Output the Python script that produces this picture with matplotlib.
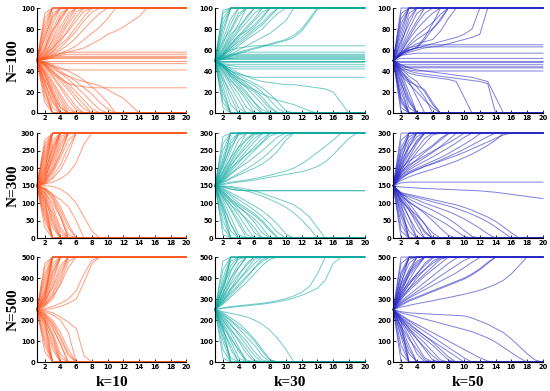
import matplotlib.pyplot as plt

# Each run lists its value at t = 1, 2, 3, ...
# A run that stops early has reached its final state and stays there up to t = 20.

runs_100_10 = [
    [50, 80, 100], [50, 85, 100], [50, 90, 100], [50, 75, 100], [50, 95, 100],
    [50, 70, 95, 100], [50, 65, 90, 100], [50, 72, 92, 100], [50, 60, 85, 100],
    [50, 62, 80, 95, 100], [50, 58, 75, 92, 100], [50, 60, 78, 90, 100], [50, 55, 70, 88, 100],
    [50, 57, 68, 82, 95, 100], [50, 55, 65, 78, 92, 100], [50, 54, 62, 75, 88, 100],
    [50, 53, 60, 72, 85, 96, 100], [50, 52, 58, 68, 80, 92, 100],
    [50, 55, 62, 70, 78, 88, 97, 100], [50, 53, 58, 65, 72, 82, 92, 100],
    [50, 52, 56, 62, 70, 78, 88, 96, 100], [50, 52, 55, 60, 65, 72, 80, 88, 95, 100],
    [50, 51, 54, 57, 60, 64, 70, 76, 82, 90, 100],
    [50, 51, 53, 56, 58, 60, 62, 66, 70, 75, 78, 82, 87, 92, 100],
    [50, 53, 55, 57, 58, 58], [50, 52, 54, 55, 56], [50, 51, 53, 54], [50, 52, 52, 53],
    [50, 51, 52], [50, 50], [50, 48, 47], [50, 47, 44, 42, 41],
    [50, 45, 38, 32, 28, 26, 25, 24],
    [50, 20, 0], [50, 15, 0], [50, 25, 0], [50, 22, 0], [50, 10, 0],
    [50, 30, 5, 0], [50, 28, 10, 0], [50, 35, 15, 0], [50, 30, 12, 0], [50, 36, 18, 0],
    [50, 32, 18, 5, 0], [50, 38, 22, 8, 0], [50, 40, 25, 12, 0], [50, 38, 20, 5, 0],
    [50, 42, 30, 18, 6, 0], [50, 40, 28, 15, 3, 0],
    [50, 44, 34, 24, 12, 3, 0], [50, 45, 36, 26, 16, 6, 0],
    [50, 46, 38, 30, 22, 12, 4, 0], [50, 47, 40, 33, 25, 16, 8, 0],
    [50, 46, 40, 34, 28, 20, 12, 4, 0], [50, 48, 44, 38, 32, 25, 18, 10, 3, 0],
    [50, 48, 45, 40, 35, 30, 24, 18, 10, 4, 0],
    [50, 49, 46, 43, 40, 36, 31, 25, 18, 10, 0],
    [50, 47, 42, 38, 35, 32, 30, 28, 26, 22, 18, 14, 7, 0],
]

runs_100_30 = [
    [50, 98, 100], [50, 95, 100], [50, 90, 100], [50, 85, 100], [50, 80, 100], [50, 75, 100],
    [50, 70, 90, 100], [50, 65, 85, 100], [50, 68, 80, 95, 100], [50, 62, 78, 92, 100],
    [50, 60, 72, 85, 100], [50, 58, 70, 80, 92, 100], [50, 60, 75, 82, 90, 100],
    [50, 57, 68, 78, 86, 95, 100], [50, 56, 65, 74, 82, 90, 100],
    [50, 55, 64, 72, 80, 88, 96, 100], [50, 56, 66, 74, 78, 84, 92, 100],
    [50, 54, 62, 70, 76, 82, 90, 100], [50, 55, 62, 68, 74, 80, 86, 94, 100],
    [50, 54, 60, 66, 72, 78, 84, 92, 100], [50, 53, 58, 64, 70, 75, 80, 88, 95, 100],
    [50, 52, 56, 60, 64, 68, 72, 76, 82, 88, 100],
    [50, 52, 55, 58, 60, 62, 64, 66, 68, 70, 74, 80, 90, 100],
    [50, 52, 54, 57, 59, 61, 63, 65, 67, 69, 72, 78, 88, 99, 100],
    [50, 56, 60, 62, 63, 64], [50, 54, 56, 57, 58], [50, 53, 55, 56], [50, 52, 54, 55],
    [50, 52, 53, 54], [50, 51, 52, 53], [50, 51, 52], [50, 51], [50, 50], [50, 49], [50, 48],
    [50, 47, 46], [50, 46, 45, 44], [50, 45, 43, 42], [50, 44, 40, 37, 35, 34],
    [50, 5, 0], [50, 10, 0], [50, 15, 0], [50, 20, 0], [50, 25, 0],
    [50, 30, 8, 0], [50, 35, 15, 0], [50, 32, 20, 5, 0], [50, 38, 25, 12, 0],
    [50, 40, 28, 18, 5, 0], [50, 42, 32, 22, 12, 0], [50, 40, 30, 24, 15, 5, 0],
    [50, 44, 35, 28, 20, 10, 0], [50, 43, 34, 26, 18, 10, 3, 0],
    [50, 45, 37, 30, 24, 16, 8, 0], [50, 44, 36, 30, 25, 20, 12, 4, 0],
    [50, 46, 40, 34, 28, 22, 15, 6, 0], [50, 45, 38, 33, 30, 26, 20, 12, 4, 0],
    [50, 46, 40, 36, 32, 28, 24, 18, 10, 2, 0],
    [50, 45, 38, 32, 26, 22, 18, 15, 12, 10, 8, 5, 2, 0],
    [50, 46, 42, 38, 35, 32, 30, 29, 28, 27, 27, 26, 25, 24, 23, 20, 10, 0],
]

runs_100_50 = [
    [50, 100], [50, 95, 100], [50, 90, 100], [50, 85, 100], [50, 80, 100], [50, 75, 100],
    [50, 70, 95, 100], [50, 65, 90, 100], [50, 68, 85, 100], [50, 62, 80, 95, 100],
    [50, 60, 75, 88, 100], [50, 58, 72, 85, 95, 100], [50, 58, 70, 80, 88, 95, 100],
    [50, 57, 60, 62, 70, 80, 90, 100], [50, 56, 59, 63, 72, 85, 100],
    [50, 56, 66, 74, 80, 86, 94, 100], [50, 55, 64, 70, 75, 80, 88, 100],
    [50, 56, 62, 66, 68, 70, 78, 90, 100],
    [50, 56, 60, 62, 64, 66, 68, 70, 72, 75, 80, 100],
    [50, 55, 58, 60, 62, 63, 64, 66, 68, 70, 72, 75, 100],
    [50, 58, 62, 64, 65], [50, 57, 60, 62, 63], [50, 55, 56, 57], [50, 52], [50, 50],
    [50, 48], [50, 46], [50, 45, 44], [50, 44, 43], [50, 42, 41, 40],
    [50, 0], [50, 5, 0], [50, 10, 0], [50, 15, 0], [50, 20, 0], [50, 25, 0], [50, 12, 0],
    [50, 30, 5, 0], [50, 35, 15, 0], [50, 28, 10, 0], [50, 38, 20, 0], [50, 33, 12, 0],
    [50, 40, 30, 15, 0], [50, 40, 32, 25, 15, 0], [50, 42, 35, 30, 20, 8, 0],
    [50, 38, 30, 26, 22, 10, 0], [50, 36, 28, 20, 12, 5, 0],
    [50, 42, 38, 36, 35, 34, 33, 32, 30, 15, 0],
    [50, 44, 40, 38, 37, 36, 35, 34, 33, 32, 31, 30, 28, 0],
    [50, 46, 43, 41, 40, 39, 38, 37, 36, 35, 34, 32, 30, 15, 0],
]

runs_300_10 = [
    [150, 250, 300], [150, 230, 300], [150, 270, 300], [150, 210, 300], [150, 200, 300],
    [150, 190, 300], [150, 260, 300], [150, 220, 300], [150, 240, 300], [150, 280, 300],
    [150, 180, 270, 300], [150, 175, 250, 300], [150, 170, 240, 300], [150, 185, 260, 300],
    [150, 165, 230, 300], [150, 190, 255, 300], [150, 200, 280, 300],
    [150, 160, 210, 270, 300], [150, 170, 220, 280, 300], [150, 165, 200, 260, 300],
    [150, 175, 230, 290, 300], [150, 160, 190, 240, 300],
    [150, 158, 185, 230, 280, 300], [150, 162, 195, 245, 300],
    [150, 156, 175, 210, 260, 300], [150, 155, 170, 195, 240, 300],
    [150, 155, 160, 170, 185, 215, 270, 300],
    [150, 50, 0], [150, 70, 0], [150, 90, 0], [150, 30, 0], [150, 100, 0], [150, 60, 0],
    [150, 110, 0], [150, 80, 0], [150, 120, 40, 0], [150, 100, 30, 0], [150, 130, 60, 0],
    [150, 115, 50, 0], [150, 125, 80, 20, 0], [150, 135, 90, 30, 0], [150, 110, 70, 10, 0],
    [150, 138, 110, 60, 0], [150, 140, 115, 70, 10, 0], [150, 130, 100, 60, 0],
    [150, 145, 125, 90, 40, 0], [150, 142, 120, 80, 30, 0],
    [150, 140, 125, 110, 90, 50, 0],
    [150, 150, 148, 140, 125, 100, 60, 20, 0],
]

runs_300_30 = [
    [150, 290, 300], [150, 270, 300], [150, 250, 300], [150, 230, 300], [150, 210, 300],
    [150, 220, 280, 300], [150, 200, 270, 300], [150, 190, 250, 300], [150, 210, 260, 295, 300],
    [150, 185, 230, 280, 300], [150, 180, 220, 260, 300], [150, 175, 215, 250, 285, 300],
    [150, 190, 230, 260, 280, 300], [150, 170, 205, 240, 270, 295, 300],
    [150, 175, 210, 235, 260, 285, 300], [150, 168, 195, 225, 250, 275, 298, 300],
    [150, 165, 190, 215, 240, 262, 285, 300], [150, 172, 200, 220, 238, 255, 275, 300],
    [150, 162, 182, 205, 228, 250, 272, 292, 300],
    [150, 165, 185, 200, 215, 232, 250, 270, 290, 300],
    [150, 160, 172, 185, 198, 212, 228, 248, 270, 292, 300],
    [150, 158, 170, 180, 190, 200, 212, 228, 250, 280, 300],
    [150, 155, 160, 163, 166, 170, 175, 180, 186, 192, 200, 212, 228, 245, 262, 280, 300],
    [150, 153, 157, 160, 163, 166, 170, 174, 178, 182, 186, 190, 196, 205, 218, 238, 262, 285, 300],
    [150, 145, 140, 137, 135], [150, 147, 140, 136],
    [150, 10, 0], [150, 30, 0], [150, 50, 0], [150, 70, 0], [150, 90, 0],
    [150, 80, 20, 0], [150, 100, 40, 0], [150, 110, 60, 10, 0], [150, 90, 40, 0],
    [150, 120, 80, 40, 0], [150, 115, 85, 50, 10, 0], [150, 125, 95, 65, 30, 0],
    [150, 130, 105, 80, 50, 15, 0], [150, 120, 95, 75, 55, 30, 0],
    [150, 135, 110, 90, 70, 45, 15, 0], [150, 128, 105, 88, 72, 55, 30, 0],
    [150, 138, 120, 100, 85, 70, 50, 25, 0], [150, 132, 112, 95, 80, 65, 45, 20, 0],
    [150, 140, 125, 110, 95, 80, 62, 40, 15, 0],
    [150, 142, 130, 118, 105, 92, 78, 60, 38, 12, 0],
    [150, 148, 145, 140, 135, 128, 120, 110, 100, 88, 72, 52, 28, 0],
    [150, 149, 147, 144, 140, 135, 128, 120, 112, 104, 95, 80, 60, 30, 0],
]

runs_300_50 = [
    [150, 300], [150, 280, 300], [150, 260, 300], [150, 240, 300], [150, 220, 300],
    [150, 250, 290, 300], [150, 230, 280, 300], [150, 210, 270, 300], [150, 200, 260, 300],
    [150, 220, 260, 290, 300], [150, 200, 240, 280, 300], [150, 190, 230, 270, 300],
    [150, 210, 245, 275, 300], [150, 195, 225, 255, 285, 300],
    [150, 185, 215, 245, 270, 295, 300], [150, 200, 220, 235, 250, 265, 285, 300],
    [150, 185, 205, 225, 245, 262, 280, 298, 300],
    [150, 180, 200, 215, 230, 245, 262, 280, 300],
    [150, 190, 210, 222, 235, 248, 260, 272, 285, 300],
    [150, 178, 195, 208, 220, 232, 245, 258, 272, 288, 300],
    [150, 175, 190, 200, 210, 220, 230, 242, 255, 268, 282, 298, 300],
    [150, 172, 186, 196, 205, 214, 223, 233, 243, 254, 266, 278, 290, 300],
    [150, 170, 185, 195, 205, 212, 220, 228, 236, 245, 255, 265, 275, 285, 295, 300],
    [150, 165, 175, 183, 190, 197, 204, 212, 220, 230, 240, 252, 265, 280, 300],
    [150, 158, 160],
    [150, 146, 145, 143, 142, 141, 140, 139, 138, 137, 136, 135, 133, 131, 128, 125, 122, 119, 116, 113],
    [150, 0], [150, 20, 0], [150, 40, 0], [150, 60, 0], [150, 80, 0], [150, 100, 0],
    [150, 70, 20, 0], [150, 90, 40, 0], [150, 110, 60, 0], [150, 100, 60, 20, 0],
    [150, 115, 80, 40, 0], [150, 120, 90, 55, 20, 0], [150, 110, 80, 50, 15, 0],
    [150, 125, 100, 70, 40, 0], [150, 105, 85, 65, 40, 15, 0],
    [150, 125, 105, 88, 70, 50, 28, 8, 0],
    [150, 120, 102, 88, 75, 62, 50, 36, 20, 5, 0],
    [150, 128, 112, 100, 90, 80, 68, 55, 40, 22, 5, 0],
    [150, 125, 118, 110, 100, 92, 84, 76, 66, 55, 42, 28, 12, 0],
    [150, 128, 122, 116, 110, 104, 98, 92, 85, 77, 68, 58, 46, 32, 16, 0],
    [150, 130, 125, 120, 115, 110, 105, 100, 95, 88, 80, 70, 60, 48, 32, 15, 0],
]

runs_500_10 = [
    [250, 420, 500], [250, 380, 500], [250, 450, 500], [250, 350, 500], [250, 330, 500],
    [250, 400, 500], [250, 310, 500], [250, 470, 500], [250, 300, 500],
    [250, 300, 420, 500], [250, 320, 450, 500], [250, 290, 400, 500], [250, 340, 470, 500],
    [250, 280, 380, 500], [250, 310, 430, 500],
    [250, 275, 330, 420, 500], [250, 285, 350, 440, 500], [250, 270, 320, 400, 500],
    [250, 290, 360, 460, 500], [250, 265, 300, 380, 480, 500],
    [250, 270, 310, 370, 450, 500],
    [250, 250, 255, 265, 280, 300, 380, 470, 500],
    [250, 255, 265, 280, 300, 340, 420, 485, 500],
    [250, 80, 0], [250, 120, 0], [250, 150, 0], [250, 50, 0], [250, 180, 0], [250, 100, 0],
    [250, 200, 0], [250, 200, 80, 0], [250, 170, 60, 0], [250, 210, 120, 0],
    [250, 190, 100, 0], [250, 215, 140, 40, 0], [250, 200, 130, 20, 0],
    [250, 225, 170, 80, 0], [250, 220, 160, 90, 0], [250, 230, 180, 110, 30, 0],
    [250, 235, 200, 140, 60, 0], [250, 225, 190, 120, 40, 0],
    [250, 240, 225, 200, 140, 0],
    [250, 245, 235, 215, 190, 160, 30, 0],
]

runs_500_30 = [
    [250, 480, 500], [250, 440, 500], [250, 400, 500], [250, 360, 500], [250, 330, 500],
    [250, 380, 480, 500], [250, 350, 460, 500], [250, 320, 430, 500], [250, 360, 440, 490, 500],
    [250, 310, 400, 470, 500], [250, 300, 380, 450, 500], [250, 330, 400, 450, 500],
    [250, 290, 350, 410, 470, 500], [250, 310, 370, 420, 460, 500],
    [250, 285, 340, 390, 440, 490, 500], [250, 300, 350, 390, 430, 470, 500],
    [250, 280, 320, 360, 400, 450, 490, 500], [250, 290, 330, 370, 410, 445, 480, 500],
    [250, 275, 310, 345, 380, 420, 460, 490, 500],
    [250, 258, 265, 268, 272, 276, 280, 286, 293, 302, 315, 333, 360, 420, 500],
    [250, 255, 260, 265, 268, 272, 276, 281, 287, 295, 305, 318, 333, 352, 390, 470, 500],
    [250, 20, 0], [250, 60, 0], [250, 100, 0], [250, 140, 0], [250, 170, 0],
    [250, 120, 20, 0], [250, 160, 60, 0], [250, 150, 80, 0], [250, 180, 100, 20, 0],
    [250, 190, 120, 50, 0], [250, 200, 140, 70, 0], [250, 170, 110, 60, 10, 0],
    [250, 210, 160, 100, 40, 0], [250, 200, 150, 110, 60, 10, 0],
    [250, 220, 180, 130, 80, 30, 0], [250, 215, 175, 140, 100, 50, 10, 0],
    [250, 225, 195, 160, 120, 80, 30, 0], [250, 230, 200, 170, 140, 100, 50, 10, 0],
    [250, 235, 210, 185, 150, 110, 60, 10, 0],
    [250, 240, 232, 224, 215, 200, 180, 150, 110, 60, 0],
]

runs_500_50 = [
    [250, 500], [250, 470, 500], [250, 430, 500], [250, 400, 500], [250, 370, 500],
    [250, 420, 490, 500], [250, 380, 470, 500], [250, 350, 440, 500], [250, 330, 420, 500],
    [250, 370, 430, 480, 500], [250, 340, 410, 460, 500], [250, 320, 390, 450, 500],
    [250, 350, 420, 470, 500], [250, 310, 370, 420, 470, 500],
    [250, 330, 380, 420, 460, 495, 500], [250, 300, 350, 400, 440, 480, 500],
    [250, 320, 370, 410, 440, 470, 495, 500], [250, 310, 350, 385, 420, 455, 490, 500],
    [250, 300, 340, 375, 410, 440, 470, 500],
    [250, 290, 320, 350, 380, 410, 440, 470, 495, 500],
    [250, 285, 310, 335, 360, 385, 410, 435, 460, 485, 500],
    [250, 280, 305, 325, 345, 365, 385, 405, 425, 450, 475, 498, 500],
    [250, 270, 290, 305, 320, 335, 350, 365, 380, 395, 415, 440, 470, 500],
    [250, 275, 295, 310, 325, 340, 355, 370, 385, 400, 420, 445, 475, 500],
    [250, 262, 270, 278, 285, 292, 300, 307, 315, 323, 332, 342, 355, 370, 390, 420, 460, 500],
    [250, 0], [250, 40, 0], [250, 80, 0], [250, 120, 0], [250, 160, 0], [250, 190, 0],
    [250, 130, 40, 0], [250, 170, 80, 0], [250, 150, 60, 0], [250, 190, 120, 40, 0],
    [250, 200, 140, 80, 20, 0], [250, 170, 110, 60, 10, 0], [250, 210, 160, 110, 60, 10, 0],
    [250, 190, 150, 110, 70, 30, 0], [250, 200, 160, 125, 90, 50, 10, 0],
    [250, 205, 170, 140, 110, 80, 45, 10, 0], [250, 215, 185, 155, 125, 95, 60, 25, 0],
    [250, 210, 180, 150, 125, 100, 75, 50, 25, 0],
    [250, 220, 195, 170, 145, 120, 95, 70, 45, 20, 0],
    [250, 225, 200, 180, 160, 140, 120, 100, 80, 60, 40, 20, 5, 0],
    [250, 235, 225, 215, 205, 195, 185, 175, 165, 155, 145, 130, 115, 95, 70, 45, 20, 0],
    [250, 240, 235, 232, 230, 228, 226, 224, 222, 220, 210, 195, 180, 160, 140, 110, 75, 40, 10, 0],
]

n_values = [100, 300, 500]
k_values = [10, 30, 50]
colors = ['#FF5A26', '#12A9A2', '#2A2AC8']
all_runs = [
    [runs_100_10, runs_100_30, runs_100_50],
    [runs_300_10, runs_300_30, runs_300_50],
    [runs_500_10, runs_500_30, runs_500_50],
]
x_steps = list(range(1, 21))

fig = plt.figure(figsize=(5.5, 3.91), dpi=100)

lefts = [0.067, 0.391, 0.715]
bottoms = [0.711, 0.391, 0.074]
w, h = 0.272, 0.2685

for i, N in enumerate(n_values):
    for j, k in enumerate(k_values):
        ax = fig.add_axes([lefts[j], bottoms[i], w, h])
        for run in all_runs[i][j]:
            y = run + [run[-1]] * (20 - len(run))
            ax.plot(x_steps, y, color=colors[j], lw=0.7, alpha=0.6, clip_on=False)
        ax.set_xlim(1, 20)
        ax.set_ylim(0, N)
        ax.set_xticks(range(2, 21, 2))
        if N == 100:
            ax.set_yticks(range(0, 101, 20))
        elif N == 300:
            ax.set_yticks(range(0, 301, 50))
        else:
            ax.set_yticks(range(0, 501, 100))
        ax.spines['top'].set_visible(False)
        ax.spines['right'].set_visible(False)
        ax.spines['left'].set_linewidth(0.8)
        ax.spines['bottom'].set_linewidth(0.8)
        ax.tick_params(direction='in', length=2, width=0.6, labelsize=4.8, pad=1.5)
        for lab in ax.get_xticklabels() + ax.get_yticklabels():
            lab.set_fontweight('bold')
        if j == 0:
            ax.text(-0.16, 0.5, f'N={N}', transform=ax.transAxes, rotation=90,
                    ha='center', va='center', fontsize=11, fontweight='bold',
                    family='Liberation Serif')
        if i == 2:
            ax.text(0.5, -0.19, f'k={k}', transform=ax.transAxes,
                    ha='center', va='center', fontsize=11, fontweight='bold',
                    family='Liberation Serif')

fig.savefig('out.png', dpi=100)
